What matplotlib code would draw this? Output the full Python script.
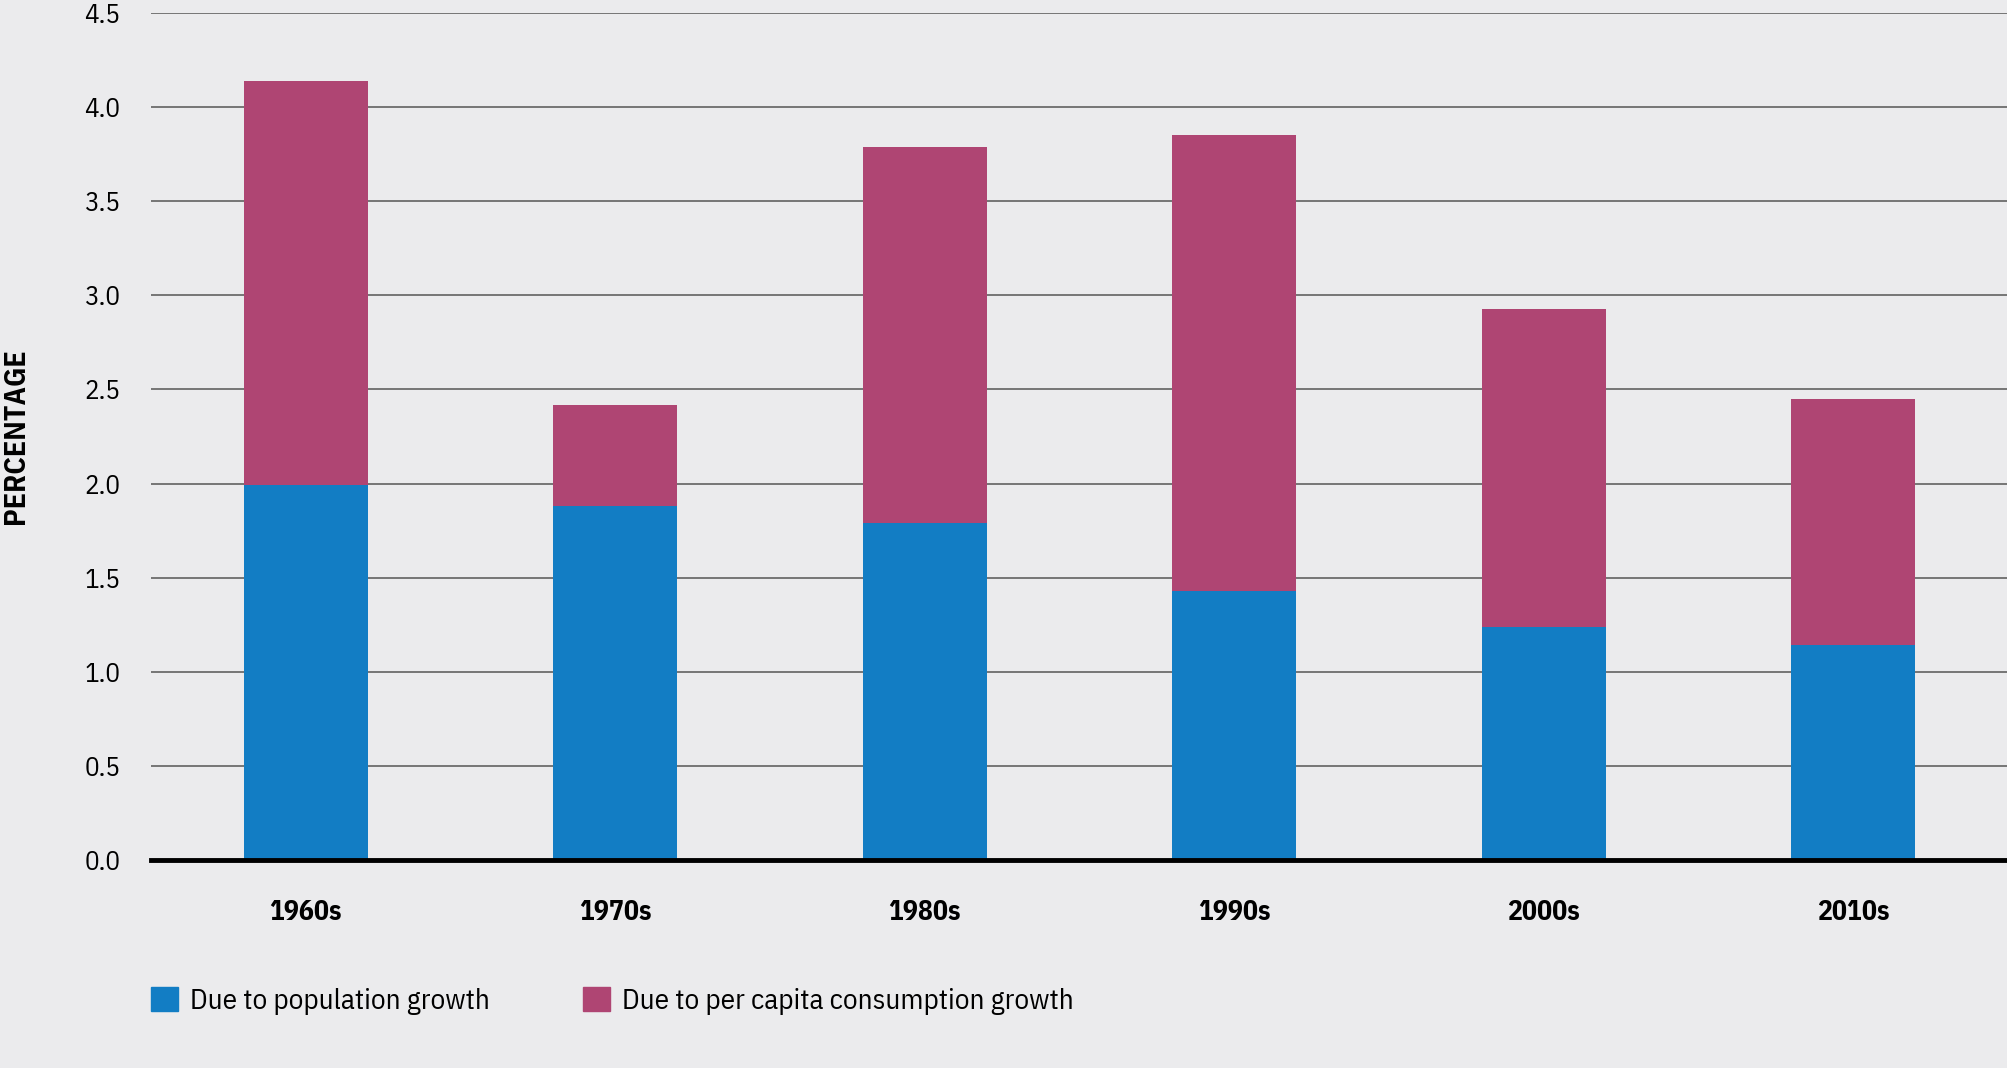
import matplotlib
matplotlib.use("Agg")
import matplotlib.pyplot as plt
from matplotlib.patches import Patch

decades = ["1960s", "1970s", "1980s", "1990s", "2000s", "2010s"]
population = [1.99, 1.88, 1.79, 1.43, 1.24, 1.14]
total = [4.14, 2.42, 3.79, 3.85, 2.93, 2.45]
per_capita = [t - p for t, p in zip(total, population)]
yticks = [0.0, 0.5, 1.0, 1.5, 2.0, 2.5, 3.0, 3.5, 4.0, 4.5]
series = ["Due to population growth", "Due to per capita consumption growth"]

bg = "#EBEBED"
blue = "#127DC4"
pink = "#AF4573"
plt.rcParams["font.family"] = ["IBM Plex Sans Condensed", "DejaVu Sans"]

fig = plt.figure(figsize=(20.08, 10.68), dpi=100, facecolor=bg)
ax = fig.add_axes([151 / 2008, 208 / 1068, 1 - 151 / 2008, (860 - 13) / 1068])
ax.set_facecolor(bg)

x = range(len(decades))
ax.bar(x, population, width=0.4, color=blue, zorder=3)
ax.bar(x, per_capita, width=0.4, bottom=population, color=pink, zorder=3)

ax.set_xlim(-0.5, 5.5)
ax.set_ylim(0, 4.5)
ax.set_yticks(yticks)
ax.set_yticklabels([f"{v:.1f}" for v in yticks])
ax.set_xticks(list(x))
ax.set_xticklabels(decades, fontweight="bold")
ax.tick_params(axis="y", length=0, pad=22, labelsize=19.5)
ax.tick_params(axis="x", length=0, pad=28, labelsize=20)
for s in ax.spines.values():
    s.set_visible(False)
ax.grid(axis="y", color="#555555", lw=1.1, zorder=1)
ax.axhline(0, color="black", lw=3.5, zorder=4, clip_on=False)

fig.text(16.5 / 2008, 1 - 436 / 1068, "PERCENTAGE", rotation=90, ha="center",
         va="center", fontsize=21.5, fontweight="bold")

# two legend entries placed separately, as in the original layout
for col, label, x0 in [(blue, series[0], 151), (pink, series[1], 583)]:
    fig.legend([Patch(color=col)], [label], loc="center left",
               bbox_to_anchor=(x0 / 2008, 1 - 1001 / 1068), frameon=False,
               fontsize=21, borderpad=0, borderaxespad=0,
               handlelength=0.91, handleheight=0.91, handletextpad=0.41)

fig.savefig("out.png", dpi=100, facecolor=bg)
